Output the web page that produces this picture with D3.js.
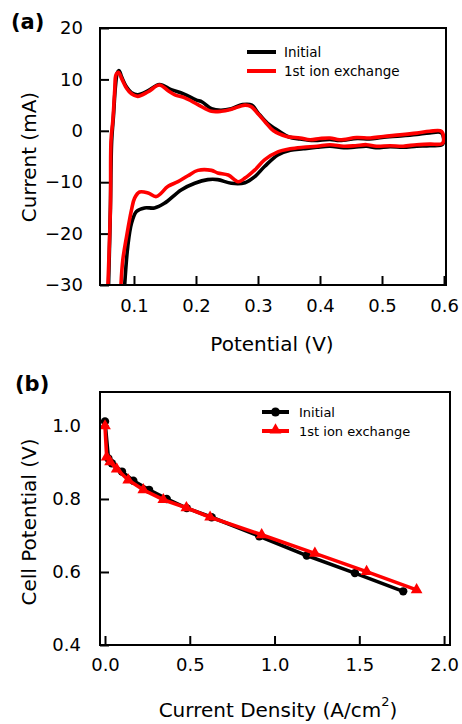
<!DOCTYPE html>
<html>
<head>
<meta charset="utf-8">
<script src="https://cdn.jsdelivr.net/npm/d3@7/dist/d3.min.js"></script>
<style>
  html, body { margin: 0; padding: 0; background: #fff; }
  svg { display: block; }
  text { font-family: "DejaVu Sans", Verdana, sans-serif; fill: #000; }
</style>
</head>
<body>
<svg id="chart" width="462" height="724"></svg>
<script>
// ---------- Data: panel (a) cyclic voltammetry ----------
const seriesNames = ["Initial", "1st ion exchange"];
const seriesColors = ["#000000", "#ff0000"];

// Initial: [potential V, current mA]
const cvInitialV = [0.059,0.062,0.064,0.067,0.070,0.073,0.076,0.080,0.088,0.096,0.106,0.123,0.141,0.160,0.180,0.200,0.210,0.225,0.240,0.257,0.275,0.290,0.300,0.315,0.333,0.350,0.368,0.390,0.416,0.432,0.460,0.480,0.500,0.530,0.556,0.577,0.596,0.598,
  0.577,0.556,0.534,0.513,0.490,0.475,0.455,0.438,0.416,0.395,0.373,0.352,0.332,0.311,0.295,0.279,0.257,0.235,0.219,0.198,0.176,0.149,0.133,0.117,0.104,0.096,0.090,0.085];
const cvInitialI = [-30,-15,-2,3,8.5,11.2,11.7,10.5,8.5,7.4,7.0,7.8,9.0,8.0,7.2,6.0,5.6,4.3,4.0,4.3,5.1,5.0,3.5,1.5,0.0,-1.2,-1.6,-1.9,-1.7,-1.9,-1.5,-1.6,-1.3,-1.0,-0.7,-0.4,-0.4,-2.6,
  -2.9,-3.0,-3.2,-3.1,-3.3,-3.0,-3.2,-3.3,-3.0,-3.2,-3.5,-3.8,-4.7,-6.9,-8.9,-10.1,-10.2,-9.5,-9.5,-10.2,-11.5,-14.1,-15.0,-15.0,-15.7,-18.0,-22.5,-30];

// 1st ion exchange
const cvExchangeV = [0.058,0.062,0.063,0.066,0.069,0.071,0.075,0.080,0.088,0.096,0.106,0.123,0.141,0.155,0.166,0.182,0.203,0.225,0.241,0.257,0.279,0.289,0.300,0.311,0.325,0.346,0.368,0.384,0.400,0.416,0.432,0.459,0.481,0.502,0.529,0.556,0.577,0.596,0.598,
  0.577,0.556,0.534,0.513,0.491,0.475,0.457,0.438,0.416,0.395,0.373,0.352,0.332,0.311,0.295,0.279,0.268,0.252,0.235,0.225,0.203,0.187,0.171,0.155,0.136,0.123,0.109,0.101,0.096,0.088,0.082,0.079];
const cvExchangeI = [-30,-14.7,-1.8,2.1,8.0,10.9,11.4,10.2,8.3,7.2,6.7,7.6,8.9,7.8,7.0,6.4,5.1,3.8,3.8,4.2,5.0,4.7,3.3,1.8,0.0,-1.1,-1.4,-1.75,-1.5,-1.4,-1.75,-1.3,-1.4,-1.1,-0.8,-0.45,-0.1,-0.1,-2.4,
  -2.6,-2.7,-3.0,-2.9,-3.0,-2.7,-2.9,-3.0,-2.7,-3.0,-3.2,-3.5,-4.1,-5.6,-7.6,-9.2,-9.9,-8.6,-8.2,-7.7,-7.7,-8.75,-9.9,-10.8,-12.8,-12.1,-11.9,-13.1,-15.4,-20.6,-25.1,-30];

const aXTicks = [0.1, 0.2, 0.3, 0.4, 0.5, 0.6];
const aYTicks = [-30, -20, -10, 0, 10, 20];

// ---------- Data: panel (b) polarization ----------
const polInitialJ = [0, 0.02, 0.04, 0.10, 0.167, 0.26, 0.364, 0.482, 0.629, 0.91, 1.19, 1.474, 1.759];
const polInitialV = [1.012, 0.911, 0.898, 0.875, 0.850, 0.825, 0.800, 0.775, 0.750, 0.698, 0.645, 0.597, 0.547];
const polExchangeJ = [0, 0.01, 0.03, 0.069, 0.137, 0.226, 0.344, 0.48, 0.62, 0.924, 1.238, 1.543, 1.838];
const polExchangeV = [1.000, 0.915, 0.902, 0.882, 0.852, 0.825, 0.798, 0.776, 0.750, 0.702, 0.651, 0.601, 0.551];

const bXTicks = [0.0, 0.5, 1.0, 1.5, 2.0];
const bYTicks = [0.4, 0.6, 0.8, 1.0];

// ---------- Drawing ----------
const svg = d3.select("#chart");
const zip = (xs, ys) => xs.map((x, i) => [x, ys[i]]);

function frame(g, L, R, T, B) {
  g.append("rect").attr("x", L).attr("y", T).attr("width", R - L).attr("height", B - T)
    .attr("fill", "none").attr("stroke", "#000").attr("stroke-width", 2);
}

// Panel (a)
const A = {L: 100, R: 446, T: 28, B: 285};
const xA = d3.scaleLinear().domain([0.0452, 0.6032]).range([A.L, A.R]);
const yA = d3.scaleLinear().domain([-30, 20]).range([A.B, A.T]);
const gA = svg.append("g");

svg.append("defs").append("clipPath").attr("id", "clipA")
  .append("rect").attr("x", A.L).attr("y", A.T).attr("width", A.R - A.L).attr("height", A.B - A.T);

const axA_x = d3.axisBottom(xA).tickValues(aXTicks).tickSize(-9).tickFormat(d3.format(".1f")).tickPadding(14);
const axA_y = d3.axisLeft(yA).tickValues(aYTicks).tickSize(-9).tickFormat(d3.format("d")).tickPadding(17);
const gAx = gA.append("g").attr("transform", `translate(0,${A.B})`).call(axA_x);
const gAy = gA.append("g").attr("transform", `translate(${A.L},0)`).call(axA_y);
[gAx, gAy].forEach(g => {
  g.select(".domain").remove();
  g.selectAll(".tick line").attr("stroke", "#000").attr("stroke-width", 2);
  g.selectAll(".tick text").attr("font-size", 18).attr("font-family", '"DejaVu Sans", Verdana, sans-serif').attr("fill", "#000");
});
gAx.selectAll(".tick text").attr("dy", "0.71em");

const lineA = d3.line().x(d => xA(d[0])).y(d => yA(d[1])).curve(d3.curveCatmullRom.alpha(0.5));
const cvData = [zip(cvInitialV, cvInitialI), zip(cvExchangeV, cvExchangeI)];
cvData.forEach((d, i) => {
  gA.append("path").attr("d", lineA(d)).attr("clip-path", "url(#clipA)")
    .attr("fill", "none").attr("stroke", seriesColors[i]).attr("stroke-width", 3.6)
    .attr("stroke-linejoin", "round").attr("stroke-linecap", "round");
});
frame(gA, A.L, A.R, A.T, A.B);

// legend (a)
seriesNames.forEach((name, i) => {
  const y = 52 + i * 19;
  gA.append("line").attr("x1", 247).attr("x2", 276).attr("y1", y).attr("y2", y)
    .attr("stroke", seriesColors[i]).attr("stroke-width", 4);
  gA.append("text").attr("x", 284).attr("y", y).attr("dy", "0.35em").attr("font-size", 13.5).text(name);
});

gA.append("text").attr("x", 272).attr("y", 351).attr("text-anchor", "middle").attr("font-size", 20).text("Potential (V)");
gA.append("text").attr("transform", `translate(36,157) rotate(-90)`).attr("text-anchor", "middle").attr("font-size", 20).text("Current (mA)");
svg.append("text").attr("x", 11).attr("y", 29).attr("font-family", '"Liberation Sans", Arial, sans-serif')
  .attr("font-weight", "bold").attr("font-size", 21).text("(a)");

// Panel (b)
const Bp = {L: 100, R: 450, T: 392, B: 645};
const xB = d3.scaleLinear().domain([-0.0295, 2.035]).range([Bp.L, Bp.R]);
const yB = d3.scaleLinear().domain([0.4, 1.093]).range([Bp.B, Bp.T]);
const gB = svg.append("g");

const axB_x = d3.axisBottom(xB).tickValues(bXTicks).tickSize(-9).tickFormat(d3.format(".1f")).tickPadding(13);
const axB_y = d3.axisLeft(yB).tickValues(bYTicks).tickSize(-9).tickFormat(d3.format(".1f")).tickPadding(19);
const gBx = gB.append("g").attr("transform", `translate(0,${Bp.B})`).call(axB_x);
const gBy = gB.append("g").attr("transform", `translate(${Bp.L},0)`).call(axB_y);
[gBx, gBy].forEach(g => {
  g.select(".domain").remove();
  g.selectAll(".tick line").attr("stroke", "#000").attr("stroke-width", 2);
  g.selectAll(".tick text").attr("font-size", 18).attr("font-family", '"DejaVu Sans", Verdana, sans-serif').attr("fill", "#000");
});
gBx.selectAll(".tick text").attr("dy", "0.71em");

const lineB = d3.line().x(d => xB(d[0])).y(d => yB(d[1]));
const polData = [zip(polInitialJ, polInitialV), zip(polExchangeJ, polExchangeV)];
const tri = d3.symbol().type(d3.symbolTriangle).size(60);
polData.forEach((d, i) => {
  gB.append("path").attr("d", lineB(d)).attr("fill", "none").attr("stroke", seriesColors[i])
    .attr("stroke-width", 3.6).attr("stroke-linejoin", "round");
  if (i === 0) {
    gB.selectAll(null).data(d).enter().append("circle")
      .attr("cx", p => xB(p[0])).attr("cy", p => yB(p[1])).attr("r", 4.2).attr("fill", seriesColors[i]);
  } else {
    gB.selectAll(null).data(d).enter().append("path").attr("d", tri)
      .attr("transform", p => `translate(${xB(p[0])},${yB(p[1])})`).attr("fill", seriesColors[i]);
  }
});
frame(gB, Bp.L, Bp.R, Bp.T, Bp.B);

// legend (b)
seriesNames.forEach((name, i) => {
  const y = 412 + i * 19;
  gB.append("line").attr("x1", 262).attr("x2", 289).attr("y1", y).attr("y2", y)
    .attr("stroke", seriesColors[i]).attr("stroke-width", 4);
  if (i === 0) gB.append("circle").attr("cx", 275.5).attr("cy", y).attr("r", 4.5).attr("fill", seriesColors[i]);
  else gB.append("path").attr("d", tri).attr("transform", `translate(275.5,${y - 1})`).attr("fill", seriesColors[i]);
  gB.append("text").attr("x", 299).attr("y", y).attr("dy", "0.35em").attr("font-size", 13).text(name);
});

const xt = gB.append("text").attr("x", 278).attr("y", 717).attr("text-anchor", "middle").attr("font-size", 20);
xt.append("tspan").text("Current Density (A/cm");
xt.append("tspan").attr("font-size", 13).attr("dy", -11).text("2");
xt.append("tspan").attr("dy", 11).text(")");
gB.append("text").attr("transform", `translate(36,522) rotate(-90)`).attr("text-anchor", "middle").attr("font-size", 20).text("Cell Potential (V)");
svg.append("text").attr("x", 15).attr("y", 391).attr("font-family", '"Liberation Sans", Arial, sans-serif')
  .attr("font-weight", "bold").attr("font-size", 21).text("(b)");
</script>
</body>
</html>
